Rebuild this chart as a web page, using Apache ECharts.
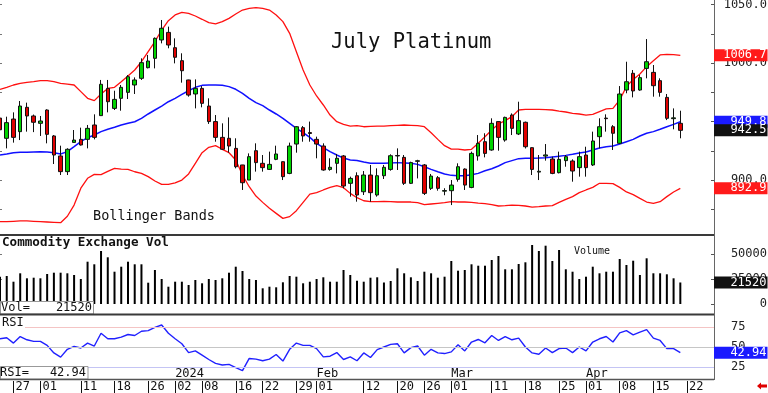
<!DOCTYPE html>
<html><head><meta charset="utf-8">
<script src="https://cdn.jsdelivr.net/npm/echarts@6/dist/echarts.min.js"></script>
<style>html,body{margin:0;padding:0;background:#fff}#c{width:768px;height:393px}</style>
</head><body><div id="c"></div>
<script>
// ---------- DATA ----------
const dates = ['11/22','11/24','11/27','11/28','11/29','11/30','12/01','12/04','12/05','12/06','12/07','12/08','12/11','12/12','12/13','12/14','12/15','12/18','12/19','12/20','12/21','12/22','12/26','12/27','12/28','12/29','01/02','01/03','01/04','01/05','01/08','01/09','01/10','01/11','01/12','01/16','01/17','01/18','01/19','01/22','01/23','01/24','01/25','01/26','01/29','01/30','01/31','02/01','02/02','02/05','02/06','02/07','02/08','02/09','02/12','02/13','02/14','02/15','02/16','02/20','02/21','02/22','02/23','02/26','02/27','02/28','02/29','03/01','03/04','03/05','03/06','03/07','03/08','03/11','03/12','03/13','03/14','03/15','03/18','03/19','03/20','03/21','03/22','03/25','03/26','03/27','03/28','04/01','04/02','04/03','04/04','04/05','04/08','04/09','04/10','04/11','04/12','04/15','04/16','04/17','04/18','04/19','04/22','04/23','04/24','04/25','04/26'];

const opens = [953,935.7,952.2,941.4,962.2,954.8,948.5,959.9,937.7,920.6,
907.2,932.2,934.8,934.8,947.1,955.1,978.4,961.3,969.9,975,
981.3,987,996.1,1004.1,1019.8,1026.3,1013.2,1002.1,985.6,973.6,
978.4,963.3,950,936.5,935.7,927.1,912.9,900,925.1,914.3,
909.1,917.7,915.7,905.7,930.8,944.8,940.6,934.8,929.1,909.1,
914.3,920.6,897.2,903.7,890,904.3,887.2,903.7,909.1,920.6,
919.4,897.2,916,912.9,892.9,902,890.5,890.9,900.6,909.4,
893.7,920.6,932.8,925.7,950,934.2,955.6,939.4,949.4,927.7,
906.8,920.5,918,906.3,916.6,916.3,910.6,921.4,912.9,937.1,
953,945.6,931.4,977,991.3,977,995.5,992.1,985,970.7,
952.5,948.5];
const closes = [943,949.1,936.5,963.3,954.8,949.4,950.5,939.1,921.4,907.2,
926.3,934.2,930,944.2,936.5,981.9,967,969,979.3,988.4,
985.6,1000.4,1001.8,1021.2,1029.8,1015.5,1005,993.5,972.7,978.4,
965.6,950,936.5,926.3,929.1,911.4,897.7,920,914.9,910.6,
913.4,922.3,902.9,929.1,945.6,937.7,939.8,930.8,908.6,910.9,
918.6,894.9,901.4,887.2,904.3,889.2,903.7,910.9,920.8,921,
897.2,914.9,916.5,888.6,903.4,892.9,891,895.7,911.4,895.7,
922.8,931.4,922.8,948.5,936.5,953.6,944.2,950.8,928.5,909.1,
907.5,921.5,905.7,917.7,920,907.7,920,910.6,933.4,945.6,
952.5,940,973.6,984.1,976.2,987.6,1001.2,980.7,975,952.8,
953.2,942.5];
const lows = [939,927.1,932,934.2,941.4,941,937.7,931.4,913.7,904.3,
904.3,932,929.5,927.1,934.8,955,957.9,959.9,959.3,969.3,
973.6,985.6,995.5,995.5,1016.9,1012.7,999.8,983.3,971.3,961.3,
962.2,948,932.8,925.7,923.4,910,891.5,900,907.2,907.2,
908.6,917,900,905,923.4,932.8,932.8,918.6,908,908,
905.7,892.9,885.8,881.5,887.2,881.5,885.8,900.9,908,908.6,
895.8,896.6,901.4,887.2,891.5,890.9,887,878.6,898.6,891.5,
893,916.6,919.4,925.1,925.1,932.8,938.5,938.5,927,904.3,
900,916.6,905,905.7,911.4,898.6,902.9,902.9,912,927.1,
941.4,925.7,930.8,974.2,970.7,976.4,987,971.3,971.3,951.3,
943.4,935.7];
const highs = [957,954.2,957.9,967.6,966.2,956,954.8,960.5,938.5,929.4,
927.2,942.8,944.8,947.1,956.2,985.6,985.6,976.4,981.3,989.8,
987.8,1004.1,1007,1022,1036.9,1031.2,1021.2,1008.4,985.8,986.1,
980.4,969.9,955.6,948.5,953.6,935.7,913,922.8,931.4,921.4,
924.3,929.4,916,932,946.2,946.2,950,937.1,931.4,918.6,
922.3,921.4,902.9,906.6,907.7,912.9,910,912.9,922,927.1,
921.4,915.7,917.3,913.7,905.2,903.4,893,900,914.3,910,
924.3,938.5,940,952.8,950.3,954.2,957,967,950,928,
921.4,930.8,920,924.3,921.4,917.7,924.3,928.5,941.4,952.8,
956.2,947,980.4,1001.2,994.1,989.8,1020.6,998.4,987,973.6,
961.3,959.3];

const bbUpper = [977.6,979.3,981.3,982.7,983.6,984.1,985,985,984.1,982.7,
982.1,981.3,975.6,969.9,967.9,973.6,978.4,979.3,984.1,989,
994.1,1001.2,1009.8,1018.4,1028.3,1036.3,1041.2,1043.5,1042.6,1040.3,
1037.5,1034.6,1033.5,1035.5,1038.3,1042,1045.4,1046.9,1047.4,1046.9,
1045.4,1041.2,1035.5,1025.5,1009.8,994.1,981.3,971.9,964.2,955.6,
949.9,947.6,946.2,946.5,945.6,945.9,946.2,946.2,946.5,946.8,
947.1,946.8,946.5,945.6,940.5,934.8,929.4,926.5,926.5,925.7,
926.3,931.4,937.1,942.8,947.9,950.8,954.2,959.9,960.5,960.5,
960.5,960.2,959.9,959,958.2,957,956.5,955.6,956.2,958.5,
960.8,961.3,968.5,979.9,986.1,990.7,997,1002.1,1007,1007.5,
1007.2,1006.7];
const bbMiddle = [921.4,922.3,923.4,923.7,923.7,924,924.3,924,923.4,922.3,
924.3,928.5,932.8,936.2,938.5,941.4,943.4,945.1,947.1,948.5,
949.9,952.8,956.5,959.9,963.3,967,969.9,973.3,976.4,979.3,
981,981.3,981.3,981,979.9,977.6,974.2,969.9,966.2,963.6,
959.9,956.5,952.8,948.5,944.2,940.5,936.5,931.4,927.7,924.3,
921.4,918.8,917.1,916.8,915.4,914.3,914.3,914.3,914.6,914.9,
914.6,914.3,913.4,911.4,909.1,907.1,905.2,904,903.7,903.7,
904.6,905.7,908,909.7,912,914.9,916.6,918.3,918.6,918.6,
918.8,919.1,919.7,920.3,921.1,922,923.1,924,925.7,927.4,
928.5,929.1,930.8,932.8,934.8,937.7,940,941.4,943.4,945.6,
947.6,949.8];
const bbLower = [864.4,864.4,864.7,865,865,864.7,864.4,864.1,863.8,863.5,
869,878.6,893,901.5,904.9,904.6,907.4,910,909.4,909.1,
907.1,905.7,902.9,899.2,896.3,896.3,897.5,900,905.2,914.3,
923.4,928,929.4,926.3,923.4,917.1,904.3,894.3,886.3,880.9,
875.8,871.5,867.2,868.7,873.8,880.9,888,889.2,891.5,893.7,
895.2,893.5,888.6,884.9,882.3,881.5,881.5,881.8,881.5,881.2,
881.2,881.2,880.6,878.9,879.5,880.1,880.6,881.5,881.2,881.2,
880.9,880.3,879.8,878.9,877.8,878.1,878.6,878.3,877.8,876.9,
877.2,877.8,878.1,880.9,883.5,885.8,889.2,891.5,893.7,897.2,
897.2,896.9,893.7,889.8,887.5,884.3,881.2,880.1,881.5,885.8,
889.8,892.9];

const volume = [27300,28000,22300,30700,25700,26300,25700,30000,31300,31300,
30700,29000,25000,42300,39700,53000,46700,32300,37300,42300,
39700,39700,21300,34000,25000,17300,22300,22300,19000,24000,
20700,25000,24000,25700,31300,37300,33000,25000,24000,15700,
17300,16700,21700,28000,27300,20700,22300,25000,26700,22300,
22300,34000,29000,23300,22300,26300,26700,21500,23000,35700,
30700,26700,23000,32300,30700,26300,27300,43000,33300,34000,
39700,38300,38300,44000,48000,34700,34700,40000,41700,59000,
53000,58300,43000,54000,34700,32300,25000,27300,37300,30700,
32300,32300,45000,39000,43300,29000,45700,30700,30700,29700,
25700,21520];

const rsi = [60.3,61.5,54.9,63.1,59,57,57,52,42.6,37.3,
47.1,50.8,48.8,54.9,51.2,67.2,60.3,60.3,62.3,65.6,
64.4,69.7,70.5,74.6,77.5,67.2,60.3,54.1,43,45.1,
39.8,34.4,29.5,27.5,28.3,24.2,20.5,35.7,34.8,32.8,
34.8,40.6,32.4,47.1,54.9,52,52,48,37.7,38.5,
43,34.4,37.7,32.8,42.6,36.9,46.7,50,53.3,54.1,
42.6,49.2,51.2,39.8,47.1,42.6,41.8,43.9,52.9,45.1,
56.2,59.4,55.3,64.4,58.2,63.1,59,61.1,50,42.6,
41,48.8,43,48,48.8,43,50,45.1,56.2,60.3,
63.1,56.2,67.6,70.5,65.2,68.5,71.7,61.1,58.2,48,
48,42.94];
const rsiLevels = [75, 50, 25];

const dayTickDates  = ['11/27','12/01','12/11','12/18','12/26','01/02','01/08','01/16','01/22','01/29','02/01','02/12','02/20','02/26','03/01','03/11','03/18','03/25','04/01','04/08','04/15','04/22'];
const dayTickLabels = ['27','01','11','18','26','02','08','16','22','29','01','12','20','26','01','11','18','25','01','08','15','22'];
const monthTickDates  = ['01/02','02/01','03/01','04/01'];
const monthTickLabels = ['2024','Feb','Mar','Apr'];
const priceLabelValues = [900, 950, 1000, 1050];
const priceTickValues = [875, 900, 925, 950, 975, 1000, 1025, 1050];
const volLabelValues = [0, 25000, 50000];
const rsiLabelValues = [25, 50, 75];

// ---------- CHART ----------
const MONO = "'DejaVu Sans Mono', 'Liberation Mono', monospace";
const last = a => a[a.length - 1];
const candles = opens.map((o, i) => [o, closes[i], lows[i], highs[i]]);

function tagLabel(text, bg) {
  return { show: true, position: 'end', distance: 0, formatter: text, color: '#fff',
    backgroundColor: bg, fontFamily: MONO, fontSize: 12, lineHeight: 11, opacity: 1,
    padding: [1, 1, 0, Math.max(0, 52.5 - 7.22 * text.length)] };
}
function tagLine(value, text, bg) {
  return { silent: true, symbol: 'none', animation: false,
    lineStyle: { color: 'rgba(0,0,0,0)', width: 1, type: 'solid' },
    label: tagLabel(text, bg), data: [{ yAxis: value }] };
}

const hiddenX = gi => ({ type: 'category', data: dates, boundaryGap: false, gridIndex: gi, show: false });
const rightLabel = (fmt, align, margin) => ({ show: true, fontFamily: MONO, fontSize: 12, color: '#222', align: align, margin: margin, formatter: fmt });

const chart = echarts.init(document.getElementById('c'), null, { renderer: 'canvas' });
chart.setOption({
  animation: false,
  backgroundColor: '#fff',
  grid: [
    { left: 0, right: 54, top: 0, height: 238.5, outerBoundsMode: 'none' },
    { left: 0, right: 54, top: 236, height: 68, outerBoundsMode: 'none' },
    { left: 0, right: 54, top: 307, height: 80, outerBoundsMode: 'none' },
    { left: 0, right: 54, top: 380, height: 13, outerBoundsMode: 'none' }
  ],
  xAxis: [
    hiddenX(0), hiddenX(1), hiddenX(2),
    { type: 'category', data: dates, boundaryGap: false, gridIndex: 3, position: 'bottom',
      axisLine: { show: false },
      axisTick: { show: true, inside: true, length: 12, interval: (i, v) => dayTickDates.includes(v), lineStyle: { color: '#111', width: 1 } },
      axisLabel: { show: true, inside: true, margin: 6, verticalAlign: 'middle', align: 'left', padding: [0, 0, 0, 2],
        interval: (i, v) => dayTickDates.includes(v),
        formatter: v => { const k = dayTickDates.indexOf(v); return k >= 0 ? dayTickLabels[k] : ''; },
        fontFamily: MONO, fontSize: 12, color: '#111' } },
    { type: 'category', data: dates, boundaryGap: false, gridIndex: 3, position: 'top',
      axisLine: { show: false }, axisTick: { show: false },
      axisLabel: { show: true, margin: 6, verticalAlign: 'middle', align: 'left',
        interval: (i, v) => monthTickDates.includes(v),
        formatter: v => { const k = monthTickDates.indexOf(v); return k >= 0 ? monthTickLabels[k] : ''; },
        fontFamily: MONO, fontSize: 12, color: '#111' } }
  ],
  yAxis: [
    { type: 'value', gridIndex: 0, position: 'right', min: 850, max: 1054, interval: 25,
      axisLine: { show: false }, splitLine: { show: false },
      axisTick: { show: true, inside: true, length: 3, customValues: priceTickValues, lineStyle: { color: '#555' } },
      axisLabel: Object.assign(rightLabel(v => priceLabelValues.includes(v) ? v.toFixed(1) : '', 'right', 53), { customValues: priceLabelValues }) },
    { type: 'value', gridIndex: 1, position: 'right', min: 0, max: 68000, interval: 25000,
      axisLine: { show: false }, splitLine: { show: false },
      axisTick: { show: true, inside: true, length: 3, customValues: volLabelValues, lineStyle: { color: '#555' } },
      axisLabel: Object.assign(rightLabel(v => volLabelValues.includes(v) ? String(v) : '', 'right', 53), { customValues: volLabelValues }) },
    { type: 'value', gridIndex: 2, position: 'right', min: 0, max: 100, interval: 25,
      axisLine: { show: false }, splitLine: { show: false },
      axisTick: { show: true, inside: true, length: 3, customValues: rsiLabelValues, lineStyle: { color: '#555' } },
      axisLabel: Object.assign(rightLabel(v => rsiLabelValues.includes(v) ? String(v) : '', 'left', 17), { customValues: rsiLabelValues }) },
    { type: 'value', gridIndex: 0, position: 'left', min: 850, max: 1054, interval: 25,
      axisLine: { show: false }, splitLine: { show: false }, axisLabel: { show: false },
      axisTick: { show: true, inside: true, length: 2, customValues: priceTickValues, lineStyle: { color: '#777' } } },
    { type: 'value', gridIndex: 1, position: 'left', min: 0, max: 68000, interval: 25000,
      axisLine: { show: false }, splitLine: { show: false }, axisLabel: { show: false },
      axisTick: { show: true, inside: true, length: 2, customValues: volLabelValues, lineStyle: { color: '#777' } } },
    { type: 'value', gridIndex: 2, position: 'left', min: 0, max: 100, interval: 25,
      axisLine: { show: false }, splitLine: { show: false }, axisLabel: { show: false },
      axisTick: { show: true, inside: true, length: 2, customValues: rsiLabelValues, lineStyle: { color: '#777' } } },
    { type: 'value', gridIndex: 3, show: false }
  ],
  series: [
    { type: 'line', name: 'upper', xAxisIndex: 0, yAxisIndex: 0, data: bbUpper, symbol: 'none', z: 2,
      lineStyle: { color: '#ff1010', width: 1.3 }, markLine: tagLine(last(bbUpper), last(bbUpper).toFixed(1), '#ff1a1a') },
    { type: 'line', name: 'lower', xAxisIndex: 0, yAxisIndex: 0, data: bbLower, symbol: 'none', z: 2,
      lineStyle: { color: '#ff1010', width: 1.3 }, markLine: tagLine(last(bbLower), last(bbLower).toFixed(1), '#ff1a1a') },
    { type: 'line', name: 'middle', xAxisIndex: 0, yAxisIndex: 0, data: bbMiddle, symbol: 'none', z: 2,
      lineStyle: { color: '#1010ff', width: 1.5 }, markLine: tagLine(last(bbMiddle), last(bbMiddle).toFixed(1), '#1a1aff') },
    { type: 'candlestick', xAxisIndex: 0, yAxisIndex: 0, data: candles, barWidth: 4, z: 3,
      itemStyle: { color: '#00d400', color0: '#e00000', borderColor: '#111', borderColor0: '#111', borderWidth: 1 },
      markLine: tagLine(last(closes), last(closes).toFixed(1), '#111') },
    { type: 'bar', xAxisIndex: 1, yAxisIndex: 1, data: volume, barWidth: 2, z: 2,
      itemStyle: { color: '#000' }, markLine: tagLine(last(volume), String(last(volume)), '#111') },
    { type: 'line', xAxisIndex: 2, yAxisIndex: 2, data: rsi, symbol: 'none', z: 3,
      lineStyle: { color: '#2020ff', width: 1.4 },
      markLine: { silent: true, symbol: 'none', animation: false, lineStyle: { type: 'solid', width: 1 },
        data: [
          { yAxis: rsiLevels[0], lineStyle: { color: '#f4c4c4', type: 'solid', width: 1 }, label: { show: false } },
          { yAxis: rsiLevels[1], lineStyle: { color: '#c6c6c6', type: 'solid', width: 1 }, label: { show: false } },
          { yAxis: rsiLevels[2], lineStyle: { color: '#c4c4f4', type: 'solid', width: 1 }, label: { show: false } },
          { yAxis: last(rsi), lineStyle: { color: 'rgba(0,0,0,0)' }, label: tagLabel(last(rsi).toFixed(2), '#1a1aff') }
        ] } }
  ],
  graphic: { elements: [
    { type: 'line', silent: true, z: 1, shape: { x1: 714.5, y1: 0, x2: 714.5, y2: 380 }, style: { stroke: '#666', lineWidth: 1 } },
    { type: 'line', silent: true, z: 60, shape: { x1: 0, y1: 235, x2: 714, y2: 235 }, style: { stroke: '#3a3a3a', lineWidth: 2 } },
    { type: 'line', silent: true, z: 60, shape: { x1: 0, y1: 314.5, x2: 714, y2: 314.5 }, style: { stroke: '#3a3a3a', lineWidth: 2 } },
    { type: 'line', silent: true, z: 60, shape: { x1: 0, y1: 379.5, x2: 714, y2: 379.5 }, style: { stroke: '#555', lineWidth: 1.5 } },
    { type: 'text', silent: true, z: 50, x: 331, y: 42.5, style: { text: 'July Platinum', font: '20.5px ' + MONO, fill: '#111', verticalAlign: 'middle' } },
    { type: 'text', silent: true, z: 50, x: 93, y: 216.3, style: { text: 'Bollinger Bands', font: '13.5px ' + MONO, fill: '#111', verticalAlign: 'middle' } },
    { type: 'text', silent: true, z: 50, x: 2, y: 243, style: { text: 'Commodity Exchange Vol', font: 'bold 12.6px ' + MONO, fill: '#111', verticalAlign: 'middle' } },
    { type: 'text', silent: true, z: 50, x: 574, y: 251.5, style: { text: 'Volume', font: '10px ' + MONO, fill: '#111', verticalAlign: 'middle' } },
    { type: 'rect', silent: true, z: 50, shape: { x: 0.5, y: 301.5, width: 93, height: 12.5 }, style: { fill: '#fff', stroke: '#999', lineWidth: 1 } },
    { type: 'text', silent: true, z: 51, x: 1, y: 308, style: { text: 'Vol=', font: '12px ' + MONO, fill: '#111', verticalAlign: 'middle' } },
    { type: 'text', silent: true, z: 51, x: 92, y: 308, style: { text: String(last(volume)), font: '12px ' + MONO, fill: '#111', verticalAlign: 'middle', align: 'right' } },
    { type: 'rect', silent: true, z: 50, shape: { x: 0, y: 316, width: 25, height: 12 }, style: { fill: '#fff' } },
    { type: 'text', silent: true, z: 51, x: 2, y: 322.5, style: { text: 'RSI', font: '12px ' + MONO, fill: '#111', verticalAlign: 'middle' } },
    { type: 'rect', silent: true, z: 50, shape: { x: 0.5, y: 366.5, width: 87.5, height: 12.5 }, style: { fill: '#fff', stroke: '#999', lineWidth: 1 } },
    { type: 'text', silent: true, z: 51, x: 0, y: 373, style: { text: 'RSI=', font: '12px ' + MONO, fill: '#111', verticalAlign: 'middle' } },
    { type: 'text', silent: true, z: 51, x: 86, y: 373, style: { text: last(rsi).toFixed(2), font: '12px ' + MONO, fill: '#111', verticalAlign: 'middle', align: 'right' } },
    { type: 'polygon', silent: true, z: 50, shape: { points: [[757,386],[761,382.5],[761,384.5],[767,384.5],[767,387.5],[761,387.5],[761,389.5]] }, style: { fill: '#e00000' } }
  ] }
});
</script>
</body></html>
